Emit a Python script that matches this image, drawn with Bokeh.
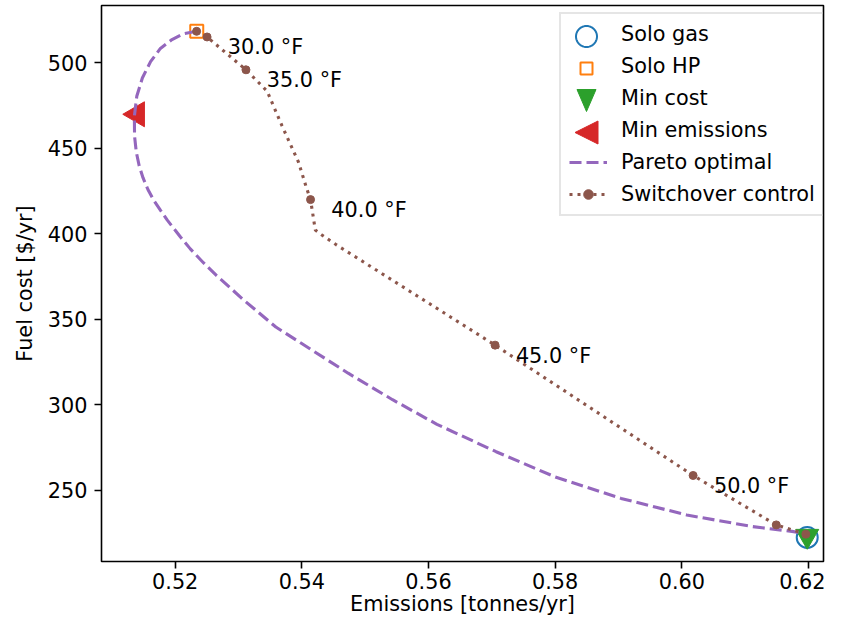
import math
from bokeh.plotting import figure
from bokeh.models import (Range1d, FixedTicker, PrintfTickFormatter, Legend,
                          LegendItem, PolyAnnotation, ColumnDataSource)
from bokeh.core.properties import value
from bokeh.embed import file_html
from bokeh.resources import INLINE

FONT = "DejaVu Sans"
FS = "20.8px"

# ---------------- data ----------------
solo_gas_emis = [0.6198]
solo_gas_cost = [222.4]
solo_hp_emis = [0.5234]
solo_hp_cost = [518.3]
min_cost_emis = [0.6198]
min_cost_cost = [223.2]
min_emis_emis = [0.5140]
min_emis_cost = [469.8]

pareto_emis = [0.52338, 0.52129, 0.51949, 0.51766, 0.51611, 0.51481, 0.51393,
               0.51355, 0.51358, 0.51385, 0.51431, 0.51491, 0.51569, 0.51662,
               0.51771, 0.51875, 0.52083, 0.52238, 0.52445, 0.52654, 0.53069,
               0.53589, 0.54159, 0.54731, 0.55432, 0.56133, 0.57067, 0.58002,
               0.59040, 0.60078, 0.61116, 0.61740, 0.61927]
pareto_cost = [518.3, 516.9, 513.5, 508.3, 500.6, 491.0, 480.3,
               468.6, 457.0, 447.8, 439.7, 432.7, 425.8, 419.4,
               413.4, 407.9, 398.0, 391.1, 383.0, 375.5, 361.6,
               345.4, 331.9, 318.4, 302.9, 288.5, 272.5, 257.7,
               245.2, 235.5, 228.7, 225.9, 224.8]

switch_emis = [0.52338, 0.52503, 0.53117, 0.53324, 0.53453, 0.53687, 0.53947,
               0.54076, 0.54137, 0.54212, 0.54310, 0.54539, 0.57051, 0.60178,
               0.61491, 0.61958]
switch_cost = [518.3, 515.0, 495.8, 488.1, 483.2, 463.0, 441.8,
               426.4, 419.9, 402.1, 399.4, 393.6, 334.8, 258.6,
               229.7, 224.3]

marker_emis = [0.52338, 0.52503, 0.53117, 0.54137, 0.57051, 0.60178, 0.61491, 0.61958]
marker_cost = [518.3, 515.0, 495.8, 419.9, 334.8, 258.6, 229.7, 224.3]
marker_labels = ["", "30.0 °F", "35.0 °F", "40.0 °F", "45.0 °F", "50.0 °F", "", ""]

x_ticks = [0.52, 0.54, 0.56, 0.58, 0.60, 0.62]
y_ticks = [250, 300, 350, 400, 450, 500]

BLUE, ORANGE, GREEN, RED = "#1f77b4", "#ff7f0e", "#2ca02c", "#d62728"
PURPLE, BROWN = "#9467bd", "#8c564b"

# ---------------- figure ----------------
p = figure(width=825, height=618, output_backend="svg", toolbar_location=None,
           x_range=Range1d(0.50836, 0.62237), y_range=Range1d(208.3, 533.4),
           min_border_left=101, min_border_right=2, min_border_top=5,
           min_border_bottom=0,
           background_fill_color="white", border_fill_color="white",
           outline_line_color="black", outline_line_width=1.6)
p.xgrid.visible = False
p.ygrid.visible = False

p.xaxis.ticker = FixedTicker(ticks=x_ticks)
p.xaxis.formatter = PrintfTickFormatter(format="%.2f")
p.yaxis.ticker = FixedTicker(ticks=y_ticks)
p.yaxis.formatter = PrintfTickFormatter(format="%d")
p.xaxis.axis_label = "Emissions [tonnes/yr]"
p.yaxis.axis_label = "Fuel cost [$/yr]"

for ax in (p.xaxis[0], p.yaxis[0]):
    ax.axis_line_color = None
    ax.major_tick_out = 7
    ax.major_tick_in = 0
    ax.major_tick_line_width = 1.6
    ax.major_tick_line_color = "black"
    ax.minor_tick_line_color = None
    ax.major_label_text_font = FONT
    ax.major_label_text_font_size = FS
    ax.major_label_text_color = "black"
    ax.axis_label_text_font = FONT
    ax.axis_label_text_font_size = FS
    ax.axis_label_text_font_style = "normal"
    ax.axis_label_text_color = "black"
p.xaxis.major_label_standoff = 4
p.xaxis.axis_label_standoff = 0
p.yaxis.major_label_standoff = 7
p.yaxis.axis_label_standoff = 8

# ---------------- glyphs ----------------
p.scatter(solo_gas_emis, solo_gas_cost, marker="circle", size=21,
          fill_color=None, line_color=BLUE, line_width=2)
p.scatter(solo_hp_emis, solo_hp_cost, marker="square", size=13,
          fill_color=None, line_color=ORANGE, line_width=2)
p.scatter(min_cost_emis, min_cost_cost, marker="inverted_triangle", size=23,
          fill_color=GREEN, line_color=GREEN)
p.scatter(min_emis_emis, min_emis_cost, marker="triangle", size=25,
          angle=math.pi / 2, fill_color=RED, line_color=RED)

pareto_r = p.line(pareto_emis, pareto_cost, line_color=PURPLE, line_width=3.1,
                  line_dash="12 5")
switch_line_r = p.line(switch_emis, switch_cost, line_color=BROWN, line_width=3.1,
                       line_dash="3 5")
switch_dot_r = p.scatter(marker_emis, marker_cost, marker="circle", size=8,
                         fill_color=BROWN, line_color=BROWN)

lab_src = ColumnDataSource(dict(
    x=[e for e, t in zip(marker_emis, marker_labels) if t],
    y=[c for c, t in zip(marker_cost, marker_labels) if t],
    t=[t for t in marker_labels if t]))
p.text(x="x", y="y", text="t", source=lab_src, x_offset=20.8, y_offset=10.4,
       text_align="left", text_baseline="alphabetic",
       text_font=value(FONT), text_font_size=value(FS), text_color="black")

# ---------------- legend ----------------
items = [
    LegendItem(label="Solo gas", renderers=[]),
    LegendItem(label="Solo HP", renderers=[]),
    LegendItem(label="Min cost", renderers=[]),
    LegendItem(label="Min emissions", renderers=[]),
    LegendItem(label="Pareto optimal", renderers=[pareto_r]),
    LegendItem(label="Switchover control", renderers=[switch_line_r, switch_dot_r]),
]
legend = Legend(items=items, location=(458, 345), orientation="vertical",
                glyph_width=38, glyph_height=24, label_height=24, spacing=8,
                padding=8, label_standoff=14, margin=0,
                border_line_color="#cccccc", border_line_width=2,
                background_fill_color="white", background_fill_alpha=0.0,
                label_text_font=FONT, label_text_font_size=FS,
                label_text_color="black")
p.add_layout(legend)

# legend marker samples (frame screen units, y upward)
cx = 485
rows = [525 - 32 * i for i in range(4)]
circ_x = [cx + 10.5 * math.cos(2 * math.pi * k / 48) for k in range(48)]
circ_y = [rows[0] + 10.5 * math.sin(2 * math.pi * k / 48) for k in range(48)]
p.add_layout(PolyAnnotation(xs=circ_x, ys=circ_y, xs_units="screen", ys_units="screen",
                            fill_alpha=0, line_color=BLUE, line_alpha=1,
                            line_width=2, level="overlay"))
p.add_layout(PolyAnnotation(xs=[cx - 6, cx + 6, cx + 6, cx - 6],
                            ys=[rows[1] - 6, rows[1] - 6, rows[1] + 6, rows[1] + 6],
                            xs_units="screen", ys_units="screen",
                            fill_alpha=0, line_color=ORANGE, line_alpha=1,
                            line_width=2, level="overlay"))
p.add_layout(PolyAnnotation(xs=[cx - 9.5, cx + 9.5, cx],
                            ys=[rows[2] + 11, rows[2] + 11, rows[2] - 11],
                            xs_units="screen", ys_units="screen",
                            fill_color=GREEN, fill_alpha=1, line_color=GREEN,
                            line_alpha=1, line_width=1, level="overlay"))
p.add_layout(PolyAnnotation(xs=[cx - 11.5, cx + 11.5, cx + 11.5],
                            ys=[rows[3], rows[3] + 11.5, rows[3] - 11.5],
                            xs_units="screen", ys_units="screen",
                            fill_color=RED, fill_alpha=1, line_color=RED,
                            line_alpha=1, line_width=1, level="overlay"))

open("out.html", "w").write(file_html(p, INLINE))
